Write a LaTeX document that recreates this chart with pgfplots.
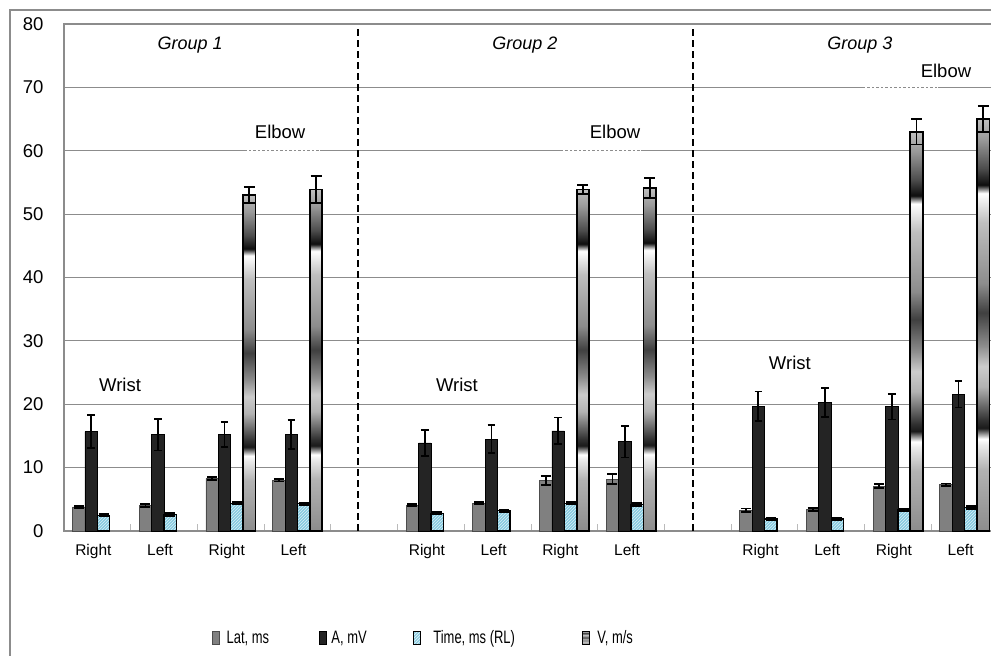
\documentclass[border=0pt]{standalone}
\usepackage{fontspec}
\setmainfont{Liberation Sans}
\newfontfamily\condensed[FakeStretch=0.72]{Liberation Sans}
\usepackage{pgfplots}
\usepackage{pgfplotstable}
\pgfplotsset{compat=1.18}
\usetikzlibrary{patterns}

\definecolor{latgray}{RGB}{128,128,128}
\definecolor{adark}{RGB}{36,36,36}
\definecolor{timeblue}{RGB}{135,203,224}
\definecolor{gridgray}{RGB}{140,140,140}

\pgfdeclareverticalshading{vstripe}{100bp}{color(0bp)=(black!45); color(25bp)=(black!45); color(32.5bp)=(black!30); color(35.5bp)=(black!8); color(36.2bp)=(white); color(37.5bp)=(black!90); color(38.5bp)=(black!80); color(42.5bp)=(black!30); color(45bp)=(black!20); color(47.5bp)=(black!45); color(51.5bp)=(black!75); color(55bp)=(black!45); color(62.5bp)=(black!25); color(66bp)=(white); color(67bp)=(black!95); color(69bp)=(black!70); color(72.5bp)=(black!40); color(75bp)=(black!25); color(100bp)=(black!25)}

\pgfplotstableread{
x y e
0 3.8 0.2
1 4.0 0.2
2 8.3 0.25
3 8.0 0.2
5 4.1 0.2
6 4.4 0.2
7 8.0 0.7
8 8.2 0.8
10 3.3 0.25
11 3.4 0.2
12 7.1 0.3
13 7.3 0.2
}\latdata

\pgfplotstableread{
x y e
0 15.7 2.6
1 15.2 2.5
2 15.2 2.0
3 15.2 2.3
5 13.9 2.1
6 14.5 2.2
7 15.8 2.1
8 14.1 2.5
10 19.7 2.3
11 20.3 2.3
12 19.6 2.0
13 21.6 2.1
}\adata

\pgfplotstableread{
x y e
0 2.5 0.2
1 2.6 0.2
2 4.4 0.2
3 4.3 0.2
5 2.8 0.2
6 3.2 0.2
7 4.4 0.2
8 4.2 0.2
10 1.9 0.2
11 1.9 0.2
12 3.3 0.2
13 3.7 0.2
}\timedata

\begin{document}
\begin{tikzpicture}[x=1pt,y=1pt]
\useasboundingbox (-64,-125) rectangle (927,531);
\clip (-64,-125) rectangle (927,531);
\draw[gridgray, line width=2pt] (-54,-300) -- (-54,521) -- (1000,521);
\begin{axis}[
  at={(0,0)}, anchor=south west,
  scale only axis, width=934pt, height=507pt,
  xmin=-0.5, xmax=13.5, ymin=0, ymax=80,
  ybar=0pt, bar width=12.4pt,
  clip=false,
  axis line style={gridgray, line width=1.2pt},
  ymajorgrids, grid style={gridgray, line width=0.9pt},
  ytick={0,10,...,80},
  xtick={0,...,13},
  xticklabels={Right,Left,Right,Left,,Right,Left,Right,Left,,Right,Left,Right,Left},
  minor xtick={-0.5,0.5,...,13.5},
  major tick length=0pt, minor tick length=7pt, tick align=inside,
  xtick pos=left, ytick pos=left,
  minor tick style={gridgray!60, line width=1pt},
  yticklabel style={font=\fontsize{18.5}{18.5}\selectfont, xshift=-17pt},
  xticklabel style={font=\fontsize{15.5}{15.5}\selectfont, xshift=-4pt, yshift=-10pt},
  /pgf/number format/assume math mode=true,
  legend style={at={(0.1585,-0.211)}, anchor=west, draw=none, fill=none,
    inner sep=0pt, outer sep=0pt, font=\condensed\fontsize{18}{18}\selectfont,
    /tikz/every even column/.append style={column sep=0pt},
    /tikz/every odd column/.append style={column sep=0pt},
    nodes={inner sep=0pt}},
  legend columns=4,
  legend cell align=left,
  error bars/y dir=both, error bars/y explicit,
  error bars/error bar style={black, line width=1.8pt},
  error bars/error mark options={black, rotate=90, line width=1.8pt, mark size=4pt},
]
% gridline artifacts under the Elbow labels
\draw[white, line width=1.8pt, dash pattern=on 2pt off 2.5pt] (axis cs:2.24,60) -- (axis cs:3.34,60);
\draw[white, line width=1.8pt, dash pattern=on 2pt off 2.5pt] (axis cs:6.98,60) -- (axis cs:8.14,60);
\draw[white, line width=1.8pt, dash pattern=on 2pt off 2.5pt] (axis cs:11.51,70) -- (axis cs:12.59,70);

\addplot[bar shift=-18.6pt, fill=latgray, draw=black!70, line width=0.7pt,
  error bars/error mark options={black, rotate=90, line width=1.8pt, mark size=5pt},
  legend image code/.code={\draw[fill=latgray, draw=black!70, line width=0.7pt] (0pt,-6.5pt) rectangle (7pt,6.5pt);}]
  table[x=x, y=y, y error=e]{\latdata};
\addlegendentry{\makebox[99pt][l]{\hspace{7pt}Lat, ms}}

\addplot[bar shift=-6.2pt, fill=adark, draw=black, line width=0.7pt,
  error bars/error mark options={black, rotate=90, line width=1.8pt, mark size=3.8pt},
  legend image code/.code={\draw[fill=adark, draw=black, line width=0.7pt] (0pt,-6.5pt) rectangle (7pt,6.5pt);}]
  table[x=x, y=y, y error=e]{\adata};
\addlegendentry{\makebox[87pt][l]{\hspace{5pt}A, mV}}

\addplot[bar shift=6.2pt, fill=timeblue, draw=black, line width=1.2pt,
  postaction={pattern=north east lines, pattern color=white!70!timeblue},
  error bars/error mark options={black, rotate=90, line width=1.8pt, mark size=5pt},
  legend image code/.code={\draw[fill=timeblue, draw=black, line width=1pt, postaction={pattern=north east lines, pattern color=white!70!timeblue}] (0pt,-6.5pt) rectangle (7pt,6.5pt);}]
  table[x=x, y=y, y error=e]{\timedata};
\addlegendentry{\makebox[161pt][l]{\hspace{12pt}Time, ms (RL)}}

\pgfplotsset{vbar/.style={bar shift=18.6pt, shade, shading=vstripe, draw=black, line width=1.8pt,
  error bars/error mark options={black, rotate=90, line width=1.8pt, mark size=5.5pt}}}
\addplot[vbar,
  legend image code/.code={\draw[shade, shading=vstripe, draw=black, line width=1pt] (0pt,-6.5pt) rectangle (7pt,6.5pt);}]
  coordinates {(2,53.0) +- (0,1.3)};
\addlegendentry{\hspace{7pt}V, m/s}
\addplot[forget plot, vbar] coordinates {(3,53.9) +- (0,2.1)};
\addplot[forget plot, vbar] coordinates {(7,53.9) +- (0,0.7)};
\addplot[forget plot, vbar] coordinates {(8,54.1) +- (0,1.6)};
\addplot[forget plot, vbar] coordinates {(12,63.0) +- (0,2.0)};
\addplot[forget plot, vbar] coordinates {(13,65.0) +- (0,2.0)};

% group separators
\draw[black, line width=1.8pt, dash pattern=on 7pt off 4pt] (axis cs:3.91,79.2) -- (axis cs:3.91,-0.2);
\draw[black, line width=1.8pt, dash pattern=on 7pt off 4pt] (axis cs:8.93,79.2) -- (axis cs:8.93,-0.2);

% labels
\node[font=\fontsize{18}{18}\selectfont\itshape] at (axis cs:1.39,76.7) {Group 1};
\node[font=\fontsize{18}{18}\selectfont\itshape] at (axis cs:6.41,76.7) {Group 2};
\node[font=\fontsize{18}{18}\selectfont\itshape] at (axis cs:11.43,76.7) {Group 3};
\node[font=\fontsize{18.5}{18.5}\selectfont] at (axis cs:0.34,23.0) {Wrist};
\node[font=\fontsize{18.5}{18.5}\selectfont] at (axis cs:5.39,23.0) {Wrist};
\node[font=\fontsize{18.5}{18.5}\selectfont] at (axis cs:10.38,26.5) {Wrist};
\node[font=\fontsize{18.5}{18.5}\selectfont] at (axis cs:2.74,62.9) {Elbow};
\node[font=\fontsize{18.5}{18.5}\selectfont] at (axis cs:7.76,62.9) {Elbow};
\node[font=\fontsize{18.5}{18.5}\selectfont] at (axis cs:12.72,72.6) {Elbow};
\end{axis}
\end{tikzpicture}
\end{document}
